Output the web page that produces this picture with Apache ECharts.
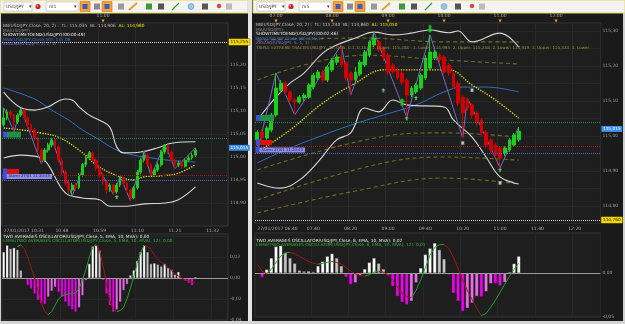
<!DOCTYPE html>
<html>
<head>
<meta charset="utf-8">
<script src="https://cdn.jsdelivr.net/npm/echarts@6/dist/echarts.min.js"></script>
<style>
  html, body { margin: 0; padding: 0; background: #1b1b1b; }
  #chart { width: 625px; height: 324px; }
</style>
</head>
<body>
<div id="chart"></div>
<script>
// ---- data ----
// left: USD/JPY m1, [open, close, low, high]
const leftCandles = [
  [115.070,115.085,115.066,115.107],[115.085,115.098,115.080,115.104],[115.098,115.091,115.085,115.102],
  [115.091,115.076,115.055,115.094],[115.076,115.091,115.072,115.095],[115.091,115.102,115.087,115.106],
  [115.102,115.085,115.081,115.104],[115.085,115.070,115.064,115.088],[115.070,115.059,115.052,115.074],
  [115.059,115.041,115.035,115.063],[115.041,115.015,115.008,115.045],[115.015,114.993,114.985,115.019],
  [114.993,115.015,114.989,115.020],[115.015,115.026,115.010,115.031],[115.026,115.037,115.021,115.040],
  [115.037,115.022,115.017,115.039],[115.022,114.993,114.987,115.026],[114.993,114.967,114.961,114.998],
  [114.967,114.943,114.937,114.972],[114.943,114.928,114.920,114.948],[114.928,114.939,114.915,114.944],
  [114.939,114.933,114.926,114.945],[114.933,114.961,114.930,114.965],[114.961,114.983,114.957,114.987],
  [114.983,114.998,114.978,115.003],[114.998,115.009,114.994,115.013],[115.009,114.993,114.988,115.012],
  [114.993,114.976,114.970,114.997],[114.976,114.961,114.955,114.980],[114.961,114.946,114.940,114.965],
  [114.946,114.928,114.920,114.950],[114.928,114.939,114.924,114.943],[114.939,114.924,114.919,114.942],
  [114.924,114.939,114.920,114.944],[114.939,114.954,114.935,114.958],[114.954,114.943,114.938,114.957],
  [114.943,114.928,114.922,114.946],[114.928,114.911,114.905,114.931],[114.911,114.933,114.908,114.937],
  [114.933,114.967,114.929,114.972],[114.967,114.993,114.962,114.998],[114.993,115.004,114.988,115.013],
  [115.004,114.983,114.978,115.008],[114.983,114.961,114.958,114.987],[114.961,114.972,114.957,114.976],
  [114.972,114.983,114.968,114.988],[114.983,115.011,114.979,115.015],[115.011,115.026,115.006,115.028],
  [115.026,115.011,115.006,115.027],[115.011,114.993,114.988,115.014],[114.993,114.983,114.975,114.997],
  [114.983,114.987,114.978,114.992],[114.987,114.980,114.975,114.991],[114.980,114.993,114.977,114.997],
  [114.993,114.998,114.989,115.003],[114.998,115.004,114.994,115.009],[115.004,115.015,115.000,115.020]
];
const leftUpper = [[0,115.141],[2,115.124],[5,115.107],[9,115.102],[13,115.109],[16,115.122],[18,115.126],[20,115.124],
  [22,115.109],[25,115.091],[28,115.080],[31,115.065],[33,115.022],[35,115.009],[40,115.011],[45,115.020],[49,115.030],[56,115.033]];
const leftLower = [[0,114.998],[5,115.004],[11,114.998],[13,114.983],[18,114.922],[23,114.911],[28,114.907],[31,114.893],
  [36,114.893],[41,114.898],[47,114.900],[51,114.907],[56,114.935]];
const leftMA = [[0,115.063],[5,115.059],[11,115.052],[16,115.043],[22,115.015],[28,114.978],[34,114.957],[38,114.950],
  [41,114.957],[46,114.959],[51,114.965],[56,114.983]];
const leftMVA = [[0,115.150],[9,115.126],[14,115.102],[19,115.080],[23,115.059],[28,115.037],[33,115.015],[38,115.004],
  [43,114.998],[48,114.993],[56,114.989]];
const leftZigzag = [[0,115.107],[3,115.055],[5,115.106],[11,114.985],[14,115.040],[20,114.915],[25,115.013],[32,114.919],
  [34,114.958],[37,114.905],[41,115.013],[43,114.958],[47,115.028],[50,114.975],[53,114.997],[56,115.020]];
const leftSignals = [[33,114.913]];
const leftLevels = [115.255, 115.037, 114.961, 114.950, 115.015];
const leftOsc = [0.0248,0.0312,0.028,0.0288,0.027,0.0074,-0.0012,-0.007,-0.0102,-0.015,-0.0212,-0.0244,-0.025,-0.018,
  -0.0124,-0.0086,-0.0134,-0.018,-0.0228,-0.027,-0.0302,-0.0324,-0.0282,-0.0166,-0.0022,0.0136,0.0302,0.0312,0.0264,
  -0.0022,-0.015,-0.026,-0.0324,-0.0302,-0.0228,-0.0118,-0.006,0.0026,0.0074,0.0162,0.0248,0.0312,0.0248,0.0136,0.0142,
  0.013,0.0112,0.0136,0.0098,0.008,0.0034,0.0058,-0.0016,-0.0028,-0.0048,-0.007,0.001];
const leftLema = ['-','-','-','-',0.030,0.0316,0.028,0.020,0.010,0.000,-0.012,-0.024,-0.032,-0.035,-0.032,-0.026,-0.020,
  -0.017,-0.016,-0.015,-0.015,-0.014,-0.010,-0.002,0.008,0.020,0.029,0.032,0.026,0.012,-0.006,-0.022,-0.030,-0.032,-0.031,
  -0.028,-0.020,-0.010,0.002,0.014,0.024,0.031,0.030,0.027,0.022,0.018,0.015,0.013,0.010,0.007,0.004,0.002,0.000,-0.002,
  -0.003,-0.004,-0.005];

// right: USD/JPY m5, [open, close, low, high]
const rightCandles = [
  [114.989,115.011,114.954,115.017],[115.011,114.994,114.986,115.020],[114.994,115.023,114.989,115.029],
  [115.017,115.060,115.011,115.066],[115.060,115.137,115.054,115.180],[115.131,115.151,115.123,115.160],
  [115.151,115.126,115.117,115.157],[115.126,115.103,115.094,115.131],[115.103,115.097,115.060,115.109],
  [115.097,115.111,115.091,115.117],[115.109,115.117,115.100,115.123],[115.111,115.146,115.106,115.151],
  [115.140,115.174,115.134,115.180],[115.166,115.183,115.160,115.189],[115.183,115.160,115.151,115.189],
  [115.160,115.197,115.154,115.203],[115.189,115.217,115.183,115.223],[115.211,115.226,115.203,115.234],
  [115.223,115.203,115.197,115.260],[115.209,115.166,115.157,115.214],[115.180,115.160,115.117,115.186],
  [115.160,115.183,115.154,115.197],[115.177,115.211,115.171,115.217],[115.203,115.240,115.197,115.246],
  [115.231,115.269,115.226,115.274],[115.260,115.280,115.254,115.297],[115.269,115.246,115.240,115.274],
  [115.251,115.223,115.214,115.257],[115.231,115.183,115.174,115.237],[115.203,115.183,115.177,115.209],
  [115.189,115.166,115.160,115.194],[115.180,115.154,115.146,115.186],[115.160,115.117,115.054,115.166],
  [115.117,115.137,115.111,115.143],[115.126,115.146,115.120,115.151],[115.137,115.174,115.131,115.180],
  [115.166,115.223,115.160,115.231],[115.194,115.240,115.189,115.289],[115.223,115.240,115.217,115.246],
  [115.231,115.217,115.209,115.237],[115.226,115.183,115.177,115.231],[115.203,115.180,115.171,115.209],
  [115.180,115.140,115.134,115.186],[115.151,115.094,115.086,115.157],[115.111,115.066,114.994,115.117],
  [115.103,115.080,115.071,115.109],[115.089,115.060,115.051,115.094],[115.066,115.037,115.029,115.071],
  [115.046,115.009,115.000,115.051],[115.011,114.974,114.966,115.017],[114.989,114.960,114.951,114.994],
  [114.974,114.946,114.937,114.980],[114.966,114.937,114.909,114.971],[114.951,114.966,114.943,114.971],
  [114.960,114.989,114.954,114.994],[114.974,115.003,114.969,115.009],[114.989,115.014,114.983,115.026]
];
const rightUpper = [[0,115.046],[4,115.111],[7,115.151],[10,115.180],[14,115.237],[17,115.260],[21,115.280],[25,115.297],
  [29,115.289],[33,115.294],[37,115.303],[41,115.295],[43,115.300],[46,115.269],[52,115.294],[56,115.254]];
const rightLower = [[0,114.866],[5,114.851],[9,114.874],[13,114.926],[17,114.989],[20,115.009],[23,115.080],[26,115.069],
  [29,115.103],[32,115.089],[40,115.083],[42,115.046],[46,114.997],[49,114.940],[52,114.883],[55,114.866],[56,114.863]];
const rightMA = [[0,114.954],[7,115.017],[14,115.094],[21,115.151],[27,115.189],[32,115.189],[37,115.189],[41,115.189],
  [46,115.146],[51,115.103],[56,115.051]];
const rightMVA = [[0,114.923],[6,114.960],[13,114.997],[20,115.031],[27,115.060],[34,115.089],[40,115.126],[44,115.140],
  [49,115.140],[56,115.126]];
const rightZigzag = [[0,114.954],[4,115.180],[8,115.060],[18,115.260],[20,115.117],[25,115.297],[32,115.054],[37,115.289],
  [44,114.994],[45,115.109],[52,114.909],[56,115.026]];
const rightTracer1 = [[0,115.274],[23,115.280],[40,115.269],[56,115.269]];
const rightTracer2 = [[0,115.160],[23,115.231],[40,115.217],[56,115.206]];
const rightTracer3 = [[0,114.903],[25,114.994],[40,115.009],[56,114.997]];
const rightTracer4 = [[0,114.817],[25,114.917],[40,114.940],[56,114.931]];
const rightTracer5 = [[0,114.780],[20,114.840],[40,114.880],[56,114.863]];
const rightBigDown = [[37,115.306]];
const rightBigUp = [[31,115.097]];
const rightSmallUp = [[27,115.131],[32,115.051],[34,115.109],[52,114.903]];
const rightWhite = [[44,114.980],[46,115.131],[52,114.866]];
const rightLevels = [114.760, 115.040, 114.966, 114.954, 115.015];
const rightOsc = [0,-0.005,0.004,0.017,0.030,0.031,0.023,0.017,0.011,0.003,0.002,0.002,0.0015,0.008,0.013,0.019,0.022,
  0.017,0.008,-0.0045,-0.013,-0.011,-0.003,0.0045,0.012,0.017,0.011,0.0045,-0.003,-0.015,-0.0265,-0.033,-0.036,-0.032,
  -0.011,0.0057,0.021,0.028,0.034,0.0265,0.016,-0.002,-0.023,-0.032,-0.0436,-0.040,-0.034,-0.0265,-0.027,-0.021,-0.012,
  -0.012,-0.0144,-0.0106,0.001,0.0106,0.019];
const rightLema = [0.010,0.002,-0.001,0.004,0.012,0.019,0.023,0.0235,0.022,0.019,0.016,0.013,0.011,0.010,0.011,0.012,0.013,
  0.012,0.010,0.006,0.002,-0.001,-0.003,-0.0035,-0.002,0.001,0.002,0.001,-0.002,-0.008,-0.016,-0.023,-0.027,-0.028,-0.020,
  -0.008,0.006,0.020,0.029,0.032,0.0325,0.028,0.018,0.005,-0.008,-0.020,-0.030,-0.040,-0.0485,-0.046,-0.039,-0.031,-0.022,
  -0.013,-0.004,0.004,0.011];

// time axes
const leftBottomTicks = [0, 17, 28, 39, 50, 61];
const leftTopTicks = [29];
const rightBottomTicks = [0, 12, 20, 28, 36, 44, 52, 60, 68];
const rightTopTicks = [4, 16, 28, 40, 52, 64];
const dateText = '27/01/2017';

function timeCats(startMin, step, n) {
  const out = [];
  for (let i = 0; i < n; i++) {
    const m = startMin + i * step;
    out.push(String(Math.floor(m / 60)).padStart(2, '0') + ':' + String(m % 60).padStart(2, '0'));
  }
  return out;
}
const leftCats = timeCats(10 * 60 + 31, 1, 66);
const rightCats = timeCats(6 * 60 + 40, 5, 74);

const FONT = 'DejaVu Sans';
const fmt2 = v => v.toFixed(2).replace('.', ',');
const fmt3 = v => v.toFixed(3).replace('.', ',');

const chart = echarts.init(document.getElementById('chart'), null, { renderer: 'canvas' });

function bottomAxis(grid, cats, ticks) {
  return {
    type: 'category', gridIndex: grid, data: cats, boundaryGap: true, position: 'bottom',
    axisLine: { show: false }, axisTick: { show: false },
    axisLabel: {
      interval: (i) => ticks.includes(i), margin: 2.5, fontSize: 4.5, fontFamily: FONT, color: '#a8a8a8',
      alignMinLabel: 'left',
      formatter: (v, i) => i === 0 ? dateText + ' ' + v : v
    },
    splitLine: { show: true, interval: (i) => ticks.includes(i), lineStyle: { color: '#2a2a2a', width: 1 } }
  };
}
function topAxis(grid, cats, ticks) {
  return {
    type: 'category', gridIndex: grid, data: cats, boundaryGap: true, position: 'top',
    axisLine: { show: false }, axisTick: { show: false },
    axisLabel: {
      interval: (i) => ticks.includes(i), margin: 0.5, fontFamily: FONT,
      formatter: v => '{t|' + v + '}\n{m|▼}',
      rich: { t: { fontSize: 4.5, color: '#a8a8a8', lineHeight: 5, fontFamily: FONT },
              m: { fontSize: 4, color: '#f0a010', lineHeight: 4, fontFamily: FONT } }
    },
    splitLine: { show: false }
  };
}
function plainAxis(grid, cats, ticks) {
  return {
    type: 'category', gridIndex: grid, data: cats, boundaryGap: true,
    axisLine: { show: false }, axisTick: { show: false }, axisLabel: { show: false },
    splitLine: { show: true, interval: (i) => ticks.includes(i), lineStyle: { color: '#262626' } }
  };
}
function priceAxis(grid, min, max, interval, fmt, showMin) {
  return {
    type: 'value', gridIndex: grid, position: 'right', min: min, max: max, interval: interval, scale: true,
    axisLine: { show: false }, axisTick: { show: false },
    axisLabel: { margin: 2, fontSize: 4.5, fontFamily: FONT, color: '#9c9c9c', showMaxLabel: false,
      showMinLabel: showMin, formatter: fmt },
    splitLine: { show: true, lineStyle: { color: '#272727', width: 1 } }
  };
}

const candleStyle = { color: '#19cf19', color0: '#d20000', borderColor: '#19cf19', borderColor0: '#d20000', borderWidth: 1 };
function line(x, y, data, color, width, type, smooth) {
  return { type: 'line', xAxisIndex: x, yAxisIndex: y, data: data, showSymbol: false, symbol: 'none', smooth: smooth,
    lineStyle: { color: color, width: width, type: type }, silent: true, z: 3 };
}
// LEMA: no fixed colour, the visualMap paints rising parts green and falling parts red
function lemaLine(x, y, data) {
  return { type: 'line', xAxisIndex: x, yAxisIndex: y, data: data, showSymbol: false, symbol: 'none', smooth: false,
    lineStyle: { width: 1 }, silent: true, z: 5 };
}
function markers(x, y, data, symbol, size, color, border) {
  return { type: 'scatter', xAxisIndex: x, yAxisIndex: y, data: data, symbol: symbol, symbolSize: size, silent: true, z: 6,
    itemStyle: { color: color, borderColor: border, borderWidth: 0.5 } };
}
function oscColor(arr) {
  return function (p) {
    const v = arr[p.dataIndex], prev = p.dataIndex > 0 ? arr[p.dataIndex - 1] : v;
    if (v >= 0) return v >= prev ? '#ffffff' : '#c4c4c4';
    return v <= prev ? '#f000f0' : '#e86ee8';
  };
}
function slopePieces(arr) {
  const pieces = [];
  let start = null, dir = null;
  for (let k = 0; k < arr.length - 1; k++) {
    if (arr[k] === '-' || arr[k + 1] === '-') continue;
    const d = arr[k + 1] >= arr[k];
    if (start === null) { start = k; dir = d; }
    else if (d !== dir) { pieces.push({ gte: start, lte: k, color: dir ? '#22a022' : '#a01414' }); start = k; dir = d; }
  }
  pieces.push({ gte: start, lte: arr.length - 1, color: dir ? '#22a022' : '#a01414' });
  return pieces;
}
const boxRich = {
  b: { width: 4, height: 6, backgroundColor: '#3a4ee0' },
  g: { width: 14, height: 6, backgroundColor: '#1f8f4a' },
  r: { width: 12, height: 5, backgroundColor: '#e01010' },
  p: { height: 5, backgroundColor: '#8e8ee8', color: '#20204a', fontSize: 3.8, fontFamily: FONT, padding: [0, 2] }
};
function levelMarks(levels, stampText) {
  return {
    symbol: ['none', 'none'], silent: true, animation: false,
    data: [
      { yAxis: levels[0], lineStyle: { color: '#cfcfcf', type: 'dotted', width: 1 },
        label: { show: true, position: 'end', distance: 1, formatter: fmt3(levels[0]), backgroundColor: '#f2d400',
          color: '#1a1a1a', fontSize: 4.3, fontFamily: FONT, padding: [1, 1.5], borderColor: '#8a7800', borderWidth: 0.5 } },
      { yAxis: levels[1], lineStyle: { color: '#1c8a48', type: 'dotted', width: 1 },
        label: { show: true, position: 'insideStartTop', distance: 1, formatter: '{b| }{g| }', rich: boxRich } },
      { yAxis: levels[2], lineStyle: { color: '#a01818', type: 'dotted', width: 1 },
        label: { show: true, position: 'insideStartTop', distance: 1, formatter: '{b| }{r| }', rich: boxRich } },
      { yAxis: levels[3], lineStyle: { color: '#5a5ab8', type: 'dotted', width: 1 },
        label: { show: true, position: 'insideStartTop', distance: 0.5, formatter: '{b| }{p|' + stampText + '}', rich: boxRich } },
      { yAxis: levels[4], lineStyle: { color: 'transparent', width: 0 },
        label: { show: true, position: 'end', distance: 1, formatter: fmt3(levels[4]), backgroundColor: '#3c8ee8',
          color: '#ffffff', fontSize: 4.3, fontFamily: FONT, padding: [1, 1.5] } }
    ]
  };
}
function zeroLine() {
  return { symbol: ['none', 'none'], silent: true, label: { show: false },
    lineStyle: { color: '#9a9a9a', type: 'solid', width: 1 }, data: [{ yAxis: 0 }] };
}

const ARROW_DOWN = 'path://M3,0H7V5H10L5,10L0,5H3Z';
const ARROW_UP = 'path://M5,0L10,5H7V10H3V5H0Z';

const series = [
  // left main (x0/x1, y0)
  { type: 'candlestick', xAxisIndex: 0, yAxisIndex: 0, data: leftCandles, barWidth: 2.2, itemStyle: candleStyle, z: 4,
    markLine: levelMarks(leftLevels, 'Alarm 27/01 11:24:45') },
  line(0, 0, leftMVA, '#2e6fc4', 1, 'solid', 0.4),
  line(0, 0, leftMA, '#e6e600', 1.3, 'dotted', 0.4),
  line(0, 0, leftUpper, '#d6d6d6', 1.1, 'solid', 0.4),
  line(0, 0, leftLower, '#d6d6d6', 1.1, 'solid', 0.4),
  line(0, 0, leftZigzag, '#7467c8', 1, 'solid', false),
  markers(0, 0, leftSignals, ARROW_UP, [4, 4], '#8ee68e', '#2a7a2a'),
  // left oscillator (x2, y1)
  { type: 'bar', xAxisIndex: 2, yAxisIndex: 1, data: leftOsc, barWidth: 2.6, silent: true,
    itemStyle: { color: oscColor(leftOsc), borderColor: '#111', borderWidth: 0.3 }, markLine: zeroLine() },
  lemaLine(2, 1, leftLema),
  // right main (x3/x4, y2)
  { type: 'candlestick', xAxisIndex: 3, yAxisIndex: 2, data: rightCandles, barWidth: 3.2, itemStyle: candleStyle, z: 4,
    markLine: levelMarks(rightLevels, 'Alarm 27/01 11:24:45') },
  line(3, 2, rightTracer1, '#6e6e1c', 1.1, [4, 3], 0.4),
  line(3, 2, rightTracer2, '#6e6e1c', 1.1, [4, 3], 0.4),
  line(3, 2, rightTracer3, '#6e6e1c', 1.1, [4, 3], 0.4),
  line(3, 2, rightTracer4, '#6e6e1c', 1.1, [4, 3], 0.4),
  line(3, 2, rightTracer5, '#6e6e1c', 1.1, [4, 3], 0.4),
  line(3, 2, rightMVA, '#2e6fc4', 1, 'solid', 0.4),
  line(3, 2, rightMA, '#e6e600', 1.3, 'dotted', 0.4),
  line(3, 2, rightUpper, '#d6d6d6', 1.1, 'solid', 0.4),
  line(3, 2, rightLower, '#d6d6d6', 1.1, 'solid', 0.4),
  line(3, 2, rightZigzag, '#7467c8', 1, 'solid', false),
  markers(3, 2, rightBigDown, ARROW_DOWN, [7, 8], '#2ad12a', '#116611'),
  markers(3, 2, rightBigUp, ARROW_UP, [7, 8], '#2ad12a', '#116611'),
  markers(3, 2, rightSmallUp, ARROW_UP, [4, 4], '#8ee68e', '#2a7a2a'),
  markers(3, 2, rightWhite, 'rect', [3, 3.5], '#eeeeee', '#555555'),
  // right oscillator (x5, y3)
  { type: 'bar', xAxisIndex: 5, yAxisIndex: 3, data: rightOsc, barWidth: 3.4, silent: true,
    itemStyle: { color: oscColor(rightOsc), borderColor: '#111', borderWidth: 0.3 }, markLine: zeroLine() },
  lemaLine(5, 3, rightLema)
];
const leftLemaIndex = 8, rightLemaIndex = series.length - 1;

// ---- window chrome: toolbars, dividers, legend texts ----
function toolbar(ox, w, tf) {
  const els = [
    { type: 'rect', shape: { x: ox, y: 0, width: w, height: 13 }, style: { fill: '#f3f3f1', stroke: '#e6d862', lineWidth: 1 } },
    { type: 'rect', shape: { x: ox + 4, y: 2, width: 28, height: 9 }, style: { fill: '#ffffff', stroke: '#b4b4b4', lineWidth: 0.6 } },
    { type: 'text', style: { text: 'USD/JPY', x: ox + 6, y: 6.5, fill: '#333', font: '4.5px "DejaVu Sans"', verticalAlign: 'middle' } },
    { type: 'text', style: { text: '▾', x: ox + 29, y: 6.5, fill: '#333', font: '5px "DejaVu Sans"', verticalAlign: 'middle' } },
    { type: 'circle', shape: { cx: ox + 38, cy: 6.5, r: 2.6 }, style: { fill: '#d42020' } },
    { type: 'circle', shape: { cx: ox + 37.3, cy: 5.8, r: 0.9 }, style: { fill: '#ff9a9a' } },
    { type: 'rect', shape: { x: ox + 46, y: 2, width: 32, height: 9 }, style: { fill: '#ffffff', stroke: '#b4b4b4', lineWidth: 0.6 } },
    { type: 'text', style: { text: tf, x: ox + 49, y: 6.5, fill: '#333', font: '4.5px "DejaVu Sans"', verticalAlign: 'middle' } },
    { type: 'text', style: { text: '▾', x: ox + 74, y: 6.5, fill: '#333', font: '5px "DejaVu Sans"', verticalAlign: 'middle' } }
  ];
  [80, 102].forEach(bx => {
    els.push({ type: 'rect', shape: { x: ox + bx, y: 1.5, width: 10, height: 10 }, style: { fill: '#f6a03a', stroke: '#cc7410', lineWidth: 0.6 } });
    els.push({ type: 'rect', shape: { x: ox + bx + 2.5, y: 4, width: 5, height: 5 }, style: { fill: '#3d5fb8' } });
  });
  const icons = [[94, '#8a8a8a'], [118, '#9a9a9a'], [146, '#3a9a3a'], [158, '#555555'], [202, '#555555'], [226, '#bbbbbb']];
  icons.forEach(ic => els.push({ type: 'rect', shape: { x: ox + ic[0], y: 3.5, width: 6, height: 6 }, style: { fill: ic[1] } }));
  els.push({ type: 'line', shape: { x1: ox + 129, y1: 10, x2: ox + 137, y2: 3 }, style: { stroke: '#e0a040', lineWidth: 2 } });
  els.push({ type: 'line', shape: { x1: ox + 172, y1: 10, x2: ox + 179, y2: 3 }, style: { stroke: '#3aa03a', lineWidth: 1.3 } });
  els.push({ type: 'circle', shape: { cx: ox + 191, cy: 6.5, r: 3 }, style: { fill: '#9cc4ea', stroke: '#5a8ac0', lineWidth: 0.5 } });
  els.push({ type: 'circle', shape: { cx: ox + 219, cy: 6, r: 2.2 }, style: { fill: '#e04040' } });
  return els;
}
function legendText(x, y, text, color, extra, size) {
  const f = (size || 4.3) + 'px "DejaVu Sans"';
  return { type: 'text', z: 50, style: { text: text, x: x, y: y, fill: color, font: f, verticalAlign: 'middle', rich: extra } };
}

const graphics = [].concat(
  toolbar(0, 248, 'm1'),
  toolbar(253, 372, 'm5'),
  [
    { type: 'rect', shape: { x: 248, y: 0, width: 4, height: 324 }, style: { fill: '#e4e4e4' } },
    { type: 'rect', shape: { x: 0, y: 13, width: 1, height: 311 }, style: { fill: '#cfcfcf' } },
    { type: 'rect', shape: { x: 623, y: 13, width: 2, height: 311 }, style: { fill: '#cfcfcf' } },
    { type: 'rect', shape: { x: 0, y: 321, width: 625, height: 3 }, style: { fill: '#d4d4d4' } },
    legendText(3, 26, '{w|BB(USD/JPY,Close, 20, 2) :  TL: 115,035  BL: 114,906  }{y|AL: 114,980}', '#bbbbbb',
      { w: { fill: '#bdbdbd', font: '4.3px "DejaVu Sans"' }, y: { fill: '#e6e600', font: '4.3px "DejaVu Sans"' } }),
    legendText(3, 30.5, 'MA(USD/JPY)', '#8a8a8a'),
    legendText(3, 35, 'SHOWTIMETOEND(USD/JPY)(00:00:49)', '#ededed'),
    legendText(3, 39.5, 'MVA(USD/JPY,Close,50): 115,08', '#3a7fd8'),
    legendText(3, 44, 'ZIGZAG(USD/JPY, 5, 1, 1)', '#7c72dc'),
    legendText(256, 25, '{w|BB(USD/JPY,Close, 20, 2) :  TL: 115,240  BL: 114,860  }{y|AL: 115,050}', '#bbbbbb',
      { w: { fill: '#bdbdbd', font: '4.3px "DejaVu Sans"' }, y: { fill: '#e6e600', font: '4.3px "DejaVu Sans"' } }),
    legendText(256, 29.5, 'MA(USD/JPY)', '#8a8a8a'),
    legendText(256, 34, 'SHOWTIMETOEND(USD/JPY)(00:02:46)', '#ededed'),
    legendText(256, 38.5, 'MVA(USD/JPY,Close,50): 115,13', '#3a7fd8'),
    legendText(256, 43, 'ZIGZAG(USD/JPY, 5, 1, 1)', '#7c72dc'),
    legendText(256, 47.5, 'TRIPLE EXTREME TRACER(USD/JPY, 20, 0.05, 0.1, 0.15) : 1. Upper: 115,208 - 1. Lower: 114,995  2. Upper: 115,258  2. Lower: 114,919  3. Upper: 115,333  3. Lower', '#8e8e34', null, 4.1),
    legendText(3, 236.5, 'TWO AVERAGES OSCILLATOR(USD/JPY,Close, 5, EMA, 10, MVA): 0,00', '#e8e8e8'),
    legendText(3, 241, 'LEMA(TWO AVERAGES OSCILLATOR(USD/JPY,Close, 5, EMA, 10, MVA), 12): 0,00', '#2fb82f'),
    legendText(256, 240.5, 'TWO AVERAGES OSCILLATOR(USD/JPY,Close, 8, EMA, 10, MVA): 0,02', '#e8e8e8'),
    legendText(256, 245, 'LEMA(TWO AVERAGES OSCILLATOR(USD/JPY,Close, 8, EMA, 10, MVA), 12): 0,01', '#2fb82f')
  ]
);

const gridStyle = { show: true, backgroundColor: '#1e1e1e', borderColor: '#363636', borderWidth: 1 };

const option = {
  animation: false,
  backgroundColor: '#1a1a1a',
  grid: [
    Object.assign({ left: 2, top: 23, width: 226, height: 203 }, gridStyle),
    Object.assign({ left: 2, top: 234, width: 226, height: 86 }, gridStyle),
    Object.assign({ left: 255, top: 23, width: 345.4, height: 200.5 }, gridStyle),
    Object.assign({ left: 255, top: 233, width: 345.4, height: 84 }, gridStyle)
  ],
  xAxis: [
    bottomAxis(0, leftCats, leftBottomTicks),
    topAxis(0, leftCats, leftTopTicks),
    plainAxis(1, leftCats, leftBottomTicks),
    bottomAxis(2, rightCats, rightBottomTicks),
    topAxis(2, rightCats, rightTopTicks),
    plainAxis(3, rightCats, rightBottomTicks)
  ],
  yAxis: [
    priceAxis(0, 114.85, 115.2913, 0.05, fmt2, false),
    priceAxis(1, -0.04, 0.0419, 0.02, v => (v > 0.03 ? '' : fmt2(v)), true),
    priceAxis(2, 114.75, 115.323, 0.05, v => (Math.round(v * 20) % 2 === 0 ? fmt2(v) : ''), false),
    priceAxis(3, -0.05, 0.04545, 0.05, fmt2, true)
  ],
  visualMap: [
    { show: false, type: 'piecewise', seriesIndex: leftLemaIndex, dimension: 0, pieces: slopePieces(leftLema) },
    { show: false, type: 'piecewise', seriesIndex: rightLemaIndex, dimension: 0, pieces: slopePieces(rightLema) }
  ],
  graphic: graphics,
  series: series
};

chart.setOption(option);
</script>
</body>
</html>
